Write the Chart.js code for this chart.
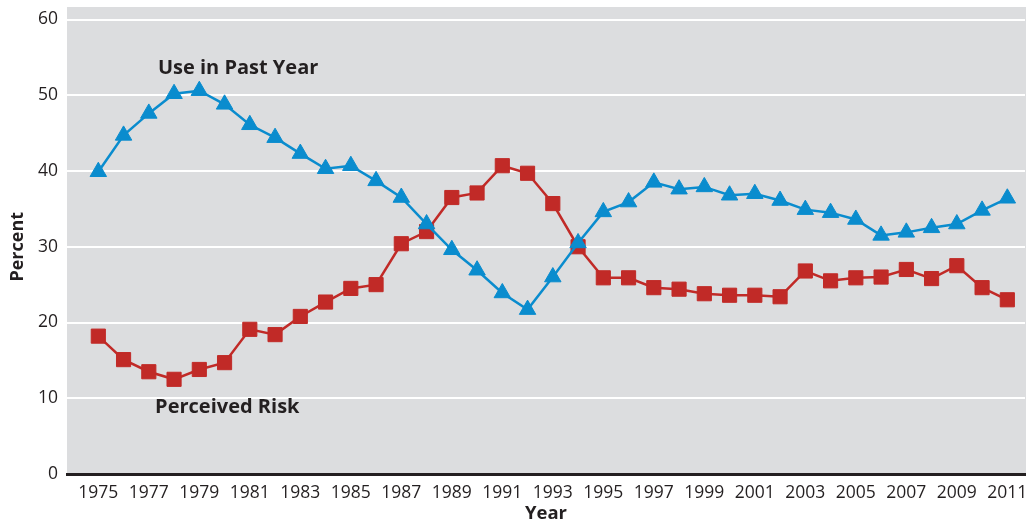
<!DOCTYPE html>
<html>
<head>
<meta charset="utf-8">
<script src="https://cdn.jsdelivr.net/npm/chart.js@4.4.1/dist/chart.umd.min.js"></script>
<style>
  html, body { margin: 0; padding: 0; background: #fff; }
</style>
</head>
<body>
<canvas id="chart" width="1026" height="523"></canvas>
<script>
// years on the x axis, odd years labelled
const years = [1975, 1976, 1977, 1978, 1979, 1980, 1981, 1982, 1983, 1984, 1985, 1986,
  1987, 1988, 1989, 1990, 1991, 1992, 1993, 1994, 1995, 1996, 1997, 1998, 1999, 2000,
  2001, 2002, 2003, 2004, 2005, 2006, 2007, 2008, 2009, 2010, 2011];
const tickYears = [1975, 1977, 1979, 1981, 1983, 1985, 1987, 1989, 1991, 1993, 1995,
  1997, 1999, 2001, 2003, 2005, 2007, 2009, 2011];
const yTicks = [0, 10, 20, 30, 40, 50, 60];

// percent
const useInPastYear = [39.9, 44.7, 47.6, 50.2, 50.6, 48.8, 46.1, 44.4, 42.3, 40.3, 40.7, 38.7,
  36.5, 33.0, 29.6, 26.9, 23.9, 21.7, 26.0, 30.5, 34.6, 35.9, 38.5, 37.6, 37.9, 36.8,
  37.0, 36.1, 34.9, 34.5, 33.6, 31.5, 31.9, 32.5, 33.0, 34.8, 36.4];
const perceivedRisk = [18.2, 15.1, 13.5, 12.5, 13.8, 14.7, 19.1, 18.4, 20.8, 22.7, 24.5, 25.0,
  30.4, 32.0, 36.5, 37.1, 40.7, 39.7, 35.7, 30.0, 25.9, 25.9, 24.6, 24.4, 23.8, 23.6,
  23.6, 23.4, 26.8, 25.5, 25.9, 26.0, 27.0, 25.8, 27.5, 24.6, 23.0];

const BLUE = '#0a8cce';
const RED = '#c12a27';
const TEXT = '#231f20';
const FONT = "'Open Sans', 'Noto Sans', sans-serif";

// grey plot background, reaching a bit above the 60 line
const plotBackground = {
  id: 'plotBackground',
  beforeDraw(chart) {
    const { ctx, chartArea: a } = chart;
    ctx.save();
    ctx.fillStyle = '#dcdddf';
    ctx.fillRect(a.left, a.top - 12.5, a.right - a.left + 1, a.bottom - a.top + 12.5);
    ctx.restore();
  }
};

// series labels placed inside the plot
const seriesLabels = {
  id: 'seriesLabels',
  afterDatasetsDraw(chart) {
    const { ctx, scales: { x, y } } = chart;
    ctx.save();
    ctx.fillStyle = TEXT;
    ctx.font = 'bold 20px ' + FONT;
    ctx.textBaseline = 'middle';
    ctx.textAlign = 'left';
    ctx.fillText('Use in Past Year', x.getPixelForValue(1977.36), y.getPixelForValue(53.6));
    ctx.fillText('Perceived Risk', x.getPixelForValue(1977.25), y.getPixelForValue(8.85));
    ctx.restore();
  }
};

const toPoints = vals => years.map((yr, i) => ({ x: yr, y: vals[i] }));

new Chart(document.getElementById('chart'), {
  type: 'line',
  data: {
    datasets: [{
      label: 'Use in Past Year',
      data: toPoints(useInPastYear),
      borderColor: BLUE,
      backgroundColor: BLUE,
      borderWidth: 2.5,
      pointStyle: 'triangle',
      pointRadius: 9.5,
      pointBorderWidth: 1,
      pointBorderColor: BLUE,
      pointBackgroundColor: BLUE,
      tension: 0,
      clip: false
    }, {
      label: 'Perceived Risk',
      data: toPoints(perceivedRisk),
      borderColor: RED,
      backgroundColor: RED,
      borderWidth: 2.5,
      pointStyle: 'rect',
      pointRadius: 10,
      pointBorderWidth: 1,
      pointBorderColor: RED,
      pointBackgroundColor: RED,
      tension: 0,
      clip: false
    }]
  },
  options: {
    responsive: false,
    animation: false,
    layout: { autoPadding: false, padding: { top: 19.5, right: 1, left: 0, bottom: 0 } },
    plugins: {
      legend: { display: false },
      tooltip: { enabled: false }
    },
    scales: {
      x: {
        type: 'linear',
        min: 1973.76,
        max: 2011.7,
        afterFit: s => { s.height = 49; s.paddingLeft = 0; s.paddingRight = 0; },
        afterBuildTicks: s => { s.ticks = tickYears.map(v => ({ value: v })); },
        grid: { display: false, drawTicks: false },
        border: { display: true, color: TEXT, width: 3 },
        ticks: {
          padding: 9,
          color: TEXT,
          font: { family: FONT, size: 17.5 },
          maxRotation: 0,
          autoSkip: false,
          callback: v => String(v)
        },
        title: {
          display: true,
          text: 'Year',
          color: TEXT,
          font: { family: FONT, size: 18.5, weight: 'bold' },
          padding: { top: 0, bottom: -2 }
        }
      },
      y: {
        min: 0,
        max: 60,
        afterFit: s => { s.width = 67; s.paddingTop = 0; s.paddingBottom = 0; },
        afterBuildTicks: s => { s.ticks = yTicks.map(v => ({ value: v })); },
        grid: { color: '#ffffff', lineWidth: 2, drawTicks: false },
        border: { display: false },
        ticks: {
          padding: 9,
          color: TEXT,
          font: { family: FONT, size: 17.5 }
        },
        title: {
          display: true,
          text: 'Percent',
          color: TEXT,
          font: { family: FONT, size: 18, weight: 'bold' },
          padding: { top: 7, bottom: 0 }
        }
      }
    }
  },
  plugins: [plotBackground, seriesLabels]
});
</script>
</body>
</html>
